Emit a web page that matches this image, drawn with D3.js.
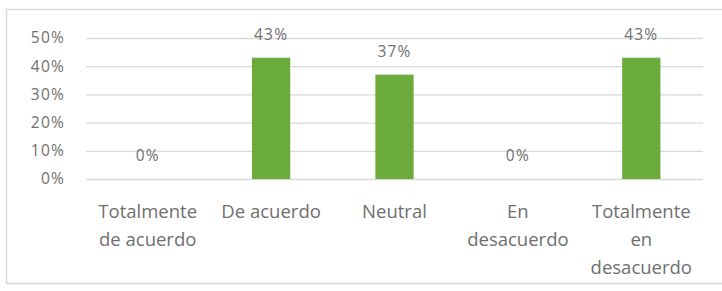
<!DOCTYPE html>
<html><head><meta charset="utf-8">
<script src="https://cdn.jsdelivr.net/npm/d3@7/dist/d3.min.js"></script>
<style>body{margin:0;background:#fff;} svg{display:block;}</style>
</head><body>
<script>
const categories = [["Totalmente","de acuerdo"],["De acuerdo"],["Neutral"],["En","desacuerdo"],["Totalmente","en","desacuerdo"]];
const values = [0, 0.43, 0.37, 0, 0.43];
const valueLabels = ["0%","43%","37%","0%","43%"];
const yTicks = [0, 0.1, 0.2, 0.3, 0.4, 0.5];

const W = 722, H = 291;
const svg = d3.select("body").append("svg").attr("width", W).attr("height", H);
svg.append("rect").attr("x", 6.5).attr("y", 9.5).attr("width", 730).attr("height", 274)
  .attr("fill", "#fff").attr("stroke", "#d9d9d9").attr("stroke-width", 1.5);

const m = {left: 86, right: 703, top: 38, bottom: 179};
const x = d3.scaleBand().domain(d3.range(categories.length)).range([m.left, m.right]).paddingInner(0.69).paddingOuter(0.345);
const y = d3.scaleLinear().domain([0, 0.5]).range([m.bottom, m.top]);
const font = "'Open Sans', sans-serif";
const grey = "#6f6f6f";

const yAxis = d3.axisLeft(y).tickValues(yTicks).tickFormat(d3.format(".0%")).tickSize(-(m.right - m.left)).tickPadding(21);
const gy = svg.append("g").attr("transform", `translate(${m.left},0)`).call(yAxis);
gy.select(".domain").remove();
gy.selectAll(".tick line").attr("stroke", "#d9d9d9").attr("stroke-width", 1.3);
gy.selectAll(".tick text").attr("fill", grey).style("font-family", font).style("font-size", "15.5px").attr("letter-spacing", "1.2px");

svg.append("g").selectAll("rect").data(values).join("rect")
  .attr("x", (d, i) => x(i)).attr("width", x.bandwidth())
  .attr("y", d => y(d)).attr("height", d => y(0) - y(d))
  .attr("fill", "#6aab3b");

svg.append("g").selectAll("text").data(values).join("text")
  .attr("x", (d, i) => x(i) + x.bandwidth() / 2).attr("y", d => y(d) - 18)
  .attr("text-anchor", "middle").attr("fill", grey)
  .style("font-family", font).style("font-size", "15.5px").attr("letter-spacing", "1.2px")
  .text((d, i) => valueLabels[i]);

const cg = svg.append("g").selectAll("text").data(categories).join("text")
  .attr("x", (d, i) => x(i) + x.bandwidth() / 2).attr("y", 218)
  .attr("text-anchor", "middle").attr("fill", grey)
  .style("font-family", font).style("font-size", "18.5px");
cg.selectAll("tspan").data(d => d).join("tspan")
  .attr("x", function() { return d3.select(this.parentNode).attr("x"); })
  .attr("dy", (d, j) => j === 0 ? 0 : 28).text(d => d);
</script>
</body></html>
